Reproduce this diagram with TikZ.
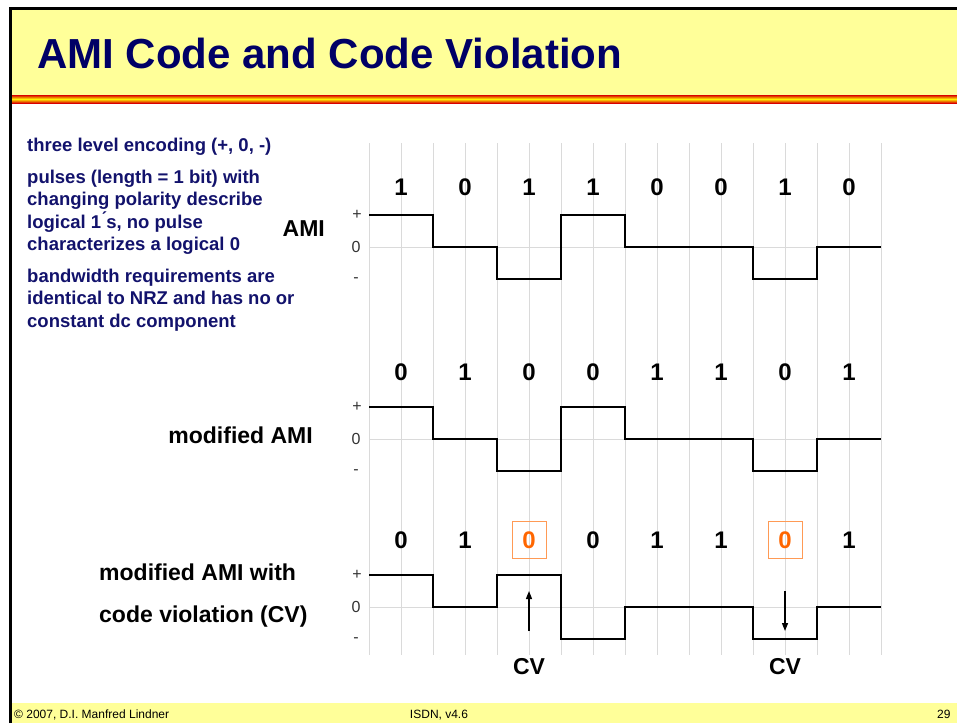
\documentclass[tikz,border=0pt]{standalone}
\usepackage{fontspec}
\setmainfont{Liberation Sans}
\usetikzlibrary{arrows.meta}

\definecolor{slideyellow}{HTML}{FFFF99}
\definecolor{titleblue}{HTML}{000066}
\definecolor{textblue}{HTML}{12126C}
\definecolor{cvorange}{HTML}{FF6600}
\definecolor{boxorange}{HTML}{FF9A55}
\definecolor{gridgray}{HTML}{DADADA}

\tikzset{
  gridline/.style={gridgray, line width=1pt},
  wave/.style={black, line width=2.6pt},
  bittext/.style={font=\fontsize{24}{24}\selectfont\bfseries, inner sep=0pt},
  cvbit/.style={bittext, text=cvorange, draw=boxorange, line width=1pt,
    minimum width=34pt, minimum height=37pt},
  lvl/.style={font=\fontsize{16}{16}\selectfont, text=black!80, inner sep=0pt},
  signame/.style={font=\fontsize{23}{23}\selectfont\bfseries, inner sep=0pt},
  note/.style={font=\fontsize{18.5}{22.3}\selectfont\bfseries, text=textblue,
    align=left, inner sep=0pt, anchor=base west},
  cvarrow/.style={line width=1.3pt, -{Triangle[length=8pt,width=6pt]}},
  foot/.style={font=\fontsize{12}{12}\selectfont, inner sep=0pt, anchor=base}
}

\begin{document}
\begin{tikzpicture}[x=1pt,y=-1pt]
  \useasboundingbox (0,0) rectangle (957,723);
  % slide frame, title band and footer band
  \fill[slideyellow] (10,8) rectangle (957,95);
  \shade[top color=red!85!black, bottom color=red!85!black, middle color=yellow!90!orange]
    (10,95) rectangle (957,103);
  \fill[slideyellow] (10,703) rectangle (957,723);
  \draw[line width=3pt] (10,723) -- (10,8) -- (957,8);
  \node[anchor=base west, text=titleblue, font=\fontsize{42}{42}\selectfont\bfseries,
    inner sep=0pt] (title) at (37,68) {AMI Code and Code Violation};

  % notes on the left (base = last line)
  \node[note] (note1) at (27,151) {three level encoding (+, 0, -)};
  \node[note] (note2) at (27,250.5) {pulses (length = 1 bit) with\\changing polarity describe\\logical 1\'{}s, no pulse\\characterizes a logical 0};
  \node[note] (note3) at (27,327) {bandwidth requirements are\\identical to NRZ and has no or\\constant dc component};

  % grid
  \foreach \x in {369,401,...,881}
    \draw[gridline] (\x,143) -- (\x,655);
  \foreach \y in {247,439,607}
    \draw[gridline] (369,\y) -- (881,\y);

  % level marks
  \foreach \y [count=\k] in {247,439,607} {
    \node[lvl] (plus\k) at (357,\y-32) {+};
    \node[lvl] (zero\k) at (356,\y) {0};
    \node[lvl] (minus\k) at (356,\y+33) {-};
  }

  % signal names
  \node[signame, anchor=base east] (ami) at (325,236) {AMI};
  \node[signame, anchor=base east] (mami) at (313,443) {modified AMI};
  \node[signame, anchor=base west] (cvami) at (99,580) {modified AMI with};
  \node[signame, anchor=base west] (cvami2) at (99,622) {code violation (CV)};

  % bits
  \foreach \b [count=\i from 0] in {1,0,1,1,0,0,1,0}
    \node[bittext] (amibit\i) at (401+64*\i,187) {\b};
  \foreach \b [count=\i from 0] in {0,1,0,0,1,1,0,1}
    \node[bittext] (mamibit\i) at (401+64*\i,372) {\b};
  \foreach \b/\s [count=\i from 0] in {0/bittext,1/bittext,0/cvbit,0/bittext,1/bittext,1/bittext,0/cvbit,1/bittext}
    \node[\s] (cvbit\i) at (401+64*\i,540) {\b};

  % waveforms
  \begin{scope}[shift={(0,247)}]
    \draw[wave] (369,-32) -| (433,0) -| (497,32) -| (561,-32) -| (625,0) -| (753,32) -| (817,0) -- (881,0);
  \end{scope}
  \begin{scope}[shift={(0,439)}]
    \draw[wave] (369,-32) -| (433,0) -| (497,32) -| (561,-32) -| (625,0) -| (753,32) -| (817,0) -- (881,0);
  \end{scope}
  \begin{scope}[shift={(0,607)}]
    \draw[wave] (369,-32) -| (433,0) -| (497,-32) -| (561,32) -| (625,0) -| (753,32) -| (817,0) -- (881,0);
  \end{scope}

  % code violations
  \coordinate (cv1foot) at (529,631);
  \coordinate (cv1tip) at (529,591);
  \coordinate (cv2foot) at (785,591);
  \coordinate (cv2tip) at (785,631);
  \draw[cvarrow] (cv1foot) -- (cv1tip);
  \draw[cvarrow] (cv2foot) -- (cv2tip);
  \node[signame] (cv1) at (529,667) {CV};
  \node[signame] (cv2) at (785,667) {CV};

  % footer
  \node[foot, anchor=base west] (copy) at (14,718) {\textcopyright{} 2007, D.I. Manfred Lindner};
  \node[foot] (version) at (439,718) {ISDN, v4.6};
  \node[foot, anchor=base west] (page) at (937,718) {29};
\end{tikzpicture}
\end{document}
